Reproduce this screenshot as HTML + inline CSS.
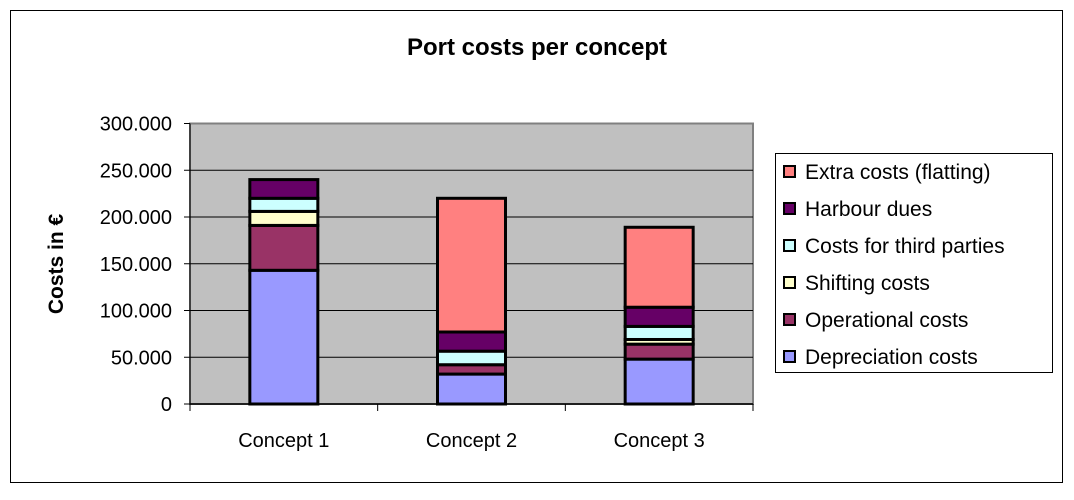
<!DOCTYPE html>
<html><head><meta charset="utf-8"><style>
body{margin:0;background:#fff;font-family:"Liberation Sans",Arial,sans-serif;}
</style></head><body>
<svg width="1074" height="495" viewBox="0 0 1074 495" xmlns="http://www.w3.org/2000/svg" font-family="Liberation Sans, Arial, sans-serif">
<rect x="10.5" y="10.5" width="1052" height="472" fill="#fff" stroke="#000" stroke-width="1"/>
<text x="537" y="55" text-anchor="middle" font-size="24" font-weight="bold">Port costs per concept</text>
<text transform="translate(63,264) rotate(-90)" text-anchor="middle" font-size="21" font-weight="bold">Costs in €</text>
<g id="plot"></g>
<g id="legend"></g>
</svg>
<script>
const categories=["Concept 1","Concept 2","Concept 3"];
const seriesNames=["Depreciation costs","Operational costs","Shifting costs","Costs for third parties","Harbour dues","Extra costs (flatting)"];
const depreciation=[143,32,48];
const operational=[48,10,16];
const shifting=[15,0,5];
const thirdParties=[14,14.5,14];
const harbour=[20,20.5,20.5];
const extra=[0,143,85.5];
const yTicks=[0,50,100,150,200,250,300];
const yTickLabels=["0","50.000","100.000","150.000","200.000","250.000","300.000"];
const colors=["#9999ff","#993366","#ffffcc","#ccffff","#660066","#ff8080"];
const series=[depreciation,operational,shifting,thirdParties,harbour,extra];
const NS="http://www.w3.org/2000/svg";
const X0=190,X1=753,Y0=404,Y1=123.5,YMAX=300;
const y=v=>Y0-(v/YMAX)*(Y0-Y1);
const bw=(X1-X0)/categories.length;
const x=i=>X0+bw*i+bw/2;
const plot=document.getElementById('plot');
function mk(t,a,p){const e=document.createElementNS(NS,t);for(const k in a)e.setAttribute(k,a[k]);(p||plot).appendChild(e);return e;}
let bg=mk('rect',{x:X0,y:Y1,width:X1-X0,height:Y0-Y1,fill:'#c0c0c0',stroke:'#808080','stroke-width':2});


yTicks.forEach((t,i)=>{
  if(t>0&&t<YMAX){let g=mk('line',{x1:X0,x2:X1,y1:y(t),y2:y(t),stroke:'#000','stroke-width':1});
  
  }
  let tk=mk('line',{x1:X0-6,x2:X0,y1:y(t),y2:y(t),stroke:'#000'});
  
  
  let tx=mk('text',{x:172,y:y(t)+7,'text-anchor':'end','font-size':20});
  tx.textContent=yTickLabels[i];
  
  
});
let ax=mk('line',{x1:X0,x2:X1,y1:Y0,y2:Y0,stroke:'#000','stroke-width':1.5});


let ay=mk('line',{x1:X0,x2:X0,y1:Y1,y2:Y0,stroke:'#000','stroke-width':1});


for(let i=0;i<=categories.length;i++){let t=mk('line',{x1:X0+bw*i,x2:X0+bw*i,y1:Y0,y2:Y0+7,stroke:'#000'});

}
const BW=68;
categories.forEach((c,i)=>{
  let acc=0;
  series.forEach((s,k)=>{
    const v=s[i]; if(v<=0)return;
    let r=mk('rect',{x:x(i)-BW/2,y:y(acc+v),width:BW,height:y(acc)-y(acc+v),fill:colors[k],stroke:'#000','stroke-width':3});
    
    
    acc+=v;
  });
  let t=mk('text',{x:x(i),y:447,'text-anchor':'middle','font-size':20});
  t.textContent=c;
  
  
});
const leg=document.getElementById('legend');
let lb=mk('rect',{x:775.5,y:153.5,width:277,height:219,fill:'#fff',stroke:'#000','stroke-width':1},leg);


for(let j=0;j<6;j++){
  const k=5-j, yy=172+j*37;
  let s=mk('rect',{x:784,y:yy-6,width:11,height:11,fill:colors[k],stroke:'#000','stroke-width':2},leg);
  
  
  let t=mk('text',{x:805,y:yy+7,'font-size':21},leg);
  t.textContent=seriesNames[k];
  
  
}
</script>
</body></html>
